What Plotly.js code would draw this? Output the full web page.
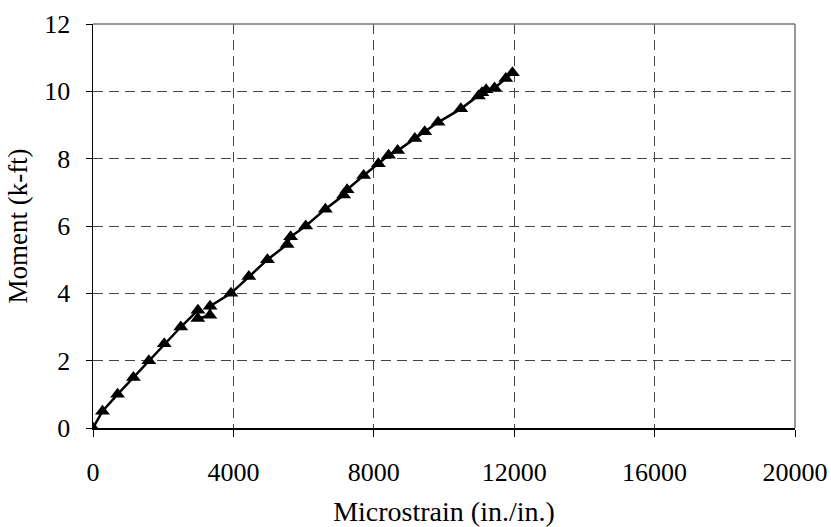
<!DOCTYPE html>
<html>
<head>
<meta charset="utf-8">
<script src="https://cdn.plot.ly/plotly-3.0.1.min.js"></script>
<style>html,body{margin:0;padding:0;background:#fff;}#chart{width:831px;height:527px;}</style>
</head>
<body>
<div id="chart"></div>
<script>
const microstrain = [0, 270, 700, 1150, 1590, 2030, 2500, 2990, 2985, 3330, 3335, 3930, 4440, 4970, 5530, 5630, 6060, 6620, 7140, 7240, 7710, 8130, 8420, 8680, 9170, 9450, 9830, 10480, 10980, 11080, 11200, 11440, 11760, 11950];
const moment =      [0, 0.5, 1.0, 1.5, 2.0, 2.5, 3.0, 3.5, 3.25, 3.35, 3.62, 4.0, 4.5, 5.0, 5.45, 5.68, 6.0, 6.5, 6.92, 7.08, 7.5, 7.85, 8.1, 8.24, 8.6, 8.8, 9.08, 9.48, 9.86, 9.96, 10.05, 10.1, 10.38, 10.55];
const xTicks = [0, 4000, 8000, 12000, 16000, 20000];
const yTicks = [0, 2, 4, 6, 8, 10, 12];

const fam = '"Liberation Serif", "Times New Roman", serif';

Plotly.newPlot('chart', [{
  x: microstrain, y: moment, type: 'scatter', mode: 'lines+markers',
  line: {color: '#000', width: 2.5},
  marker: {symbol: 'triangle-up', size: 13, color: '#000'},
  showlegend: false
}], {
  width: 831, height: 527,
  margin: {l: 93, r: 36, t: 24, b: 99},
  paper_bgcolor: '#fff', plot_bgcolor: '#fff',
  font: {family: fam, color: '#000', size: 26},
  xaxis: {
    range: [0, 20000], tickvals: xTicks, ticktext: xTicks.map(String),
    showline: true, linecolor: '#000', linewidth: 1.5,
    ticks: 'outside', ticklen: 7, tickcolor: '#000',
    ticklabelstandoff: 13,
    tickfont: {family: fam, size: 26, color: '#000'},
    showgrid: true, gridcolor: '#444', griddash: '10px,6px', gridwidth: 1,
    zeroline: false,
    title: {text: 'Microstrain (in./in.)', font: {family: fam, size: 28, color: '#000'}, standoff: 20}
  },
  yaxis: {
    range: [0, 12], tickvals: yTicks, ticktext: yTicks.map(String),
    showline: true, linecolor: '#000', linewidth: 1.5,
    ticks: 'outside', ticklen: 6, tickcolor: '#000',
    ticklabelstandoff: 10,
    tickfont: {family: fam, size: 26, color: '#000'},
    showgrid: true, gridcolor: '#444', griddash: '10px,6px', gridwidth: 1,
    zeroline: false,
    title: {text: 'Moment (k-ft)', font: {family: fam, size: 27, color: '#000'}, standoff: 9}
  },
  shapes: [
    {type: 'line', xref: 'paper', yref: 'paper', x0: 0, x1: 1, y0: 1, y1: 1, line: {color: '#777', width: 1.5}},
    {type: 'line', xref: 'paper', yref: 'paper', x0: 1, x1: 1, y0: 0, y1: 1, line: {color: '#777', width: 1.5}}
  ]
}, {staticPlot: true});
</script>
</body>
</html>
